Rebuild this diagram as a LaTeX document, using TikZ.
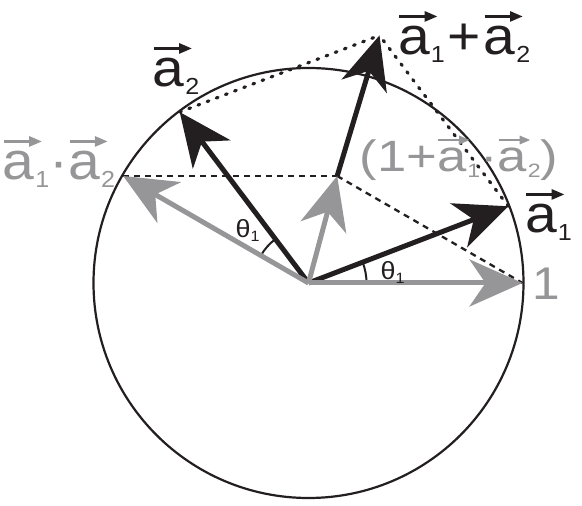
\documentclass[tikz,border=0pt]{standalone}
\usepackage{fontspec}
\usepackage{graphicx}
\setmainfont{Liberation Sans}
\newfontfamily\lf[FakeStretch=1.08]{Liberation Sans}
\newfontfamily\lfw[FakeStretch=1.2]{Liberation Sans}
\usetikzlibrary{arrows.meta,calc}
\definecolor{vgray}{RGB}{150,150,152}
\definecolor{vblack}{RGB}{35,31,32}
\newcommand\sbs[1]{\kern0.02em\raisebox{-0.135em}{\scalebox{0.44}{#1}}}
\newcommand\va[2]{\leavevmode\rlap{\raisebox{0.73em}{\tikz[baseline=0pt]\draw[draw=#1,line width=0.045em,-{Triangle[length=0.24em,width=0.19em]}] (0,0)--(0.72em,0);}}a\sbs{#2}}
\begin{document}
\begin{tikzpicture}[x=1bp,y=1bp,
  vecb/.style={line width=5bp, draw=vblack, -{Stealth[length=53bp,width=47bp,inset=16bp]}},
  vecg/.style={vecb, draw=vgray},
  dotl/.style={draw=vblack, line width=3.2bp, line cap=round, dash pattern=on 1.8bp off 8bp},
  dashl/.style={draw=vblack, line width=2.3bp, dash pattern=on 6bp off 5bp},
  circl/.style={draw=vblack, line width=2.2bp},
  arcl/.style={draw=vblack, line width=2bp},
  lbl/.style={inner sep=0pt, font=\lf\fontsize{53}{60}\selectfont, text=vblack, anchor=base west},
  thl/.style={inner sep=0pt, font=\lf\fontsize{25}{27}\selectfont, text=vblack, anchor=base west}]
\useasboundingbox (-308.5,-223) rectangle (273.5,283);
\coordinate (O) at (0,0);
\coordinate (E) at (0:214);
\coordinate (A1) at (21:214);
\coordinate (A2) at (127:214);
\coordinate (B) at (150:214);
\coordinate (S) at ($(A1)+(A2)$);
\coordinate (P) at ($(E)+(B)$);
% circle
\draw[circl] (O) circle[radius=215];
% parallelogram helpers
\draw[dotl] (A2) -- (S);
\draw[dotl] (A1) -- (S);
\draw[dashl] (B) -- (P);
\draw[dashl] (P) -- (E);
% angle arcs
\draw[arcl] (O) ++(0:58) arc[start angle=0, end angle=21, radius=58];
\draw[arcl] (O) ++(127:55) arc[start angle=127, end angle=150, radius=55];
% black vectors
\draw[vecb] (O) -- (A1);
\draw[vecb] (O) -- (A2);
\draw[vecb] (P) -- (S);
% gray vectors
\draw[vecg] (O) -- (E);
\draw[vecg] (O) -- (B);
\draw[vecg] (O) -- (P);
% labels
\node[lbl] (la2) at (-156,196) {\va{vblack}{2}};
\node[lbl] (lsum) at (89.5,228) {\va{vblack}{1}\kern0.05em+\kern0.05em\va{vblack}{2}};
\node[lbl] (la1) at (216.5,50) {\va{vblack}{1}};
\node[lbl, text=vgray, font=\lf\fontsize{46}{50}\selectfont] (lone) at (224,-17) {1};
\node[lbl, text=vgray] (lprod) at (-306,103) {\va{vgray}{1}·\va{vgray}{2}};
\node[lbl, text=vgray, font=\lfw\fontsize{44}{50}\selectfont] (lsumg) at (51,111) {(1+\va{vgray}{1}·\va{vgray}{2})};
\node[thl] (th1) at (72,3) {θ\raisebox{-0.15em}{\scalebox{0.6}{1}}};
\node[thl] (th2) at (-73,45) {θ\raisebox{-0.15em}{\scalebox{0.6}{1}}};
\end{tikzpicture}
\end{document}
